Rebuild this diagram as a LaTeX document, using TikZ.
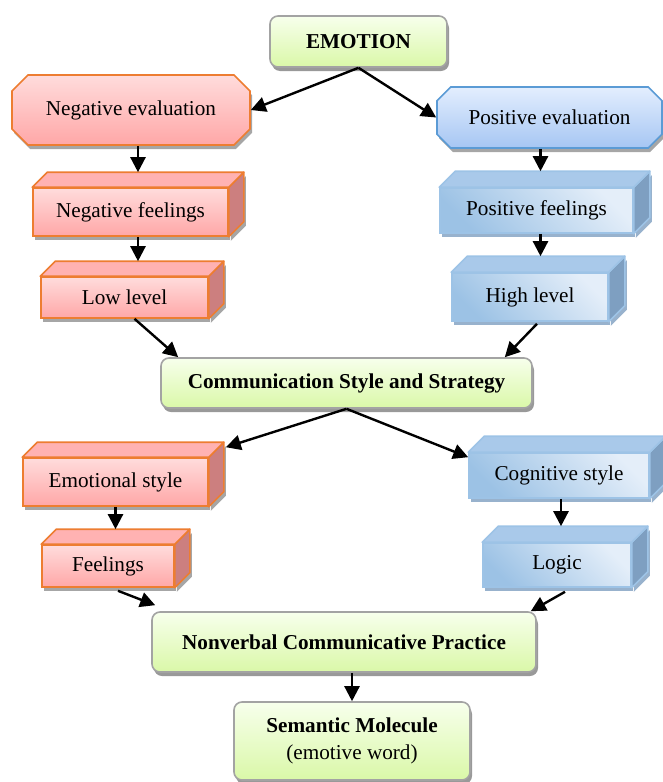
\documentclass[tikz,border=0pt]{standalone}
\usepackage{fontspec}
\setmainfont{Liberation Serif}
\usetikzlibrary{shapes.misc,shadows,calc,arrows.meta}
\definecolor{grnline}{HTML}{A3A3A3}
\definecolor{grnlt}{HTML}{F7FFEC}
\definecolor{grndk}{HTML}{DAF8A8}
\definecolor{negline}{HTML}{ED7D31}
\definecolor{neglt}{HTML}{FFDCDC}
\definecolor{negdk}{HTML}{FFA7A7}
\definecolor{negtopc}{HTML}{FFB2B2}
\definecolor{negsidec}{HTML}{CC7F7F}
\definecolor{evalline}{HTML}{5B9BD5}
\definecolor{evallt}{HTML}{E3EEFE}
\definecolor{evaldk}{HTML}{A6C6F3}
\definecolor{posline}{HTML}{9DC3E6}
\definecolor{poslt}{HTML}{E4EEF9}
\definecolor{posdk}{HTML}{9CC2E5}
\definecolor{postopc}{HTML}{A9C9EA}
\definecolor{possidec}{HTML}{7E9FC1}
\begin{document}
\begin{tikzpicture}[x=1pt,y=-1pt,
font=\fontsize{21.2}{27}\selectfont,
stage/.style={%
rectangle,
rounded corners=8pt,
draw=grnline,
line width=1.6pt,
top color=grnlt,
bottom color=grndk,
drop shadow={shadow xshift=2pt,shadow yshift=-4pt,fill=black!40,opacity=1},
font=\fontsize{21.2}{27}\selectfont\bfseries,
align=center,
},
negoct/.style={%
chamfered rectangle,
chamfered rectangle xsep=20pt,
draw=negline,
line width=1.6pt,
top color=neglt,
bottom color=negdk,
drop shadow={shadow xshift=2pt,shadow yshift=-4pt,fill=black!35,opacity=1},
},
posoct/.style={%
chamfered rectangle,
chamfered rectangle xsep=14pt,
draw=evalline,
line width=1.6pt,
top color=evallt,
bottom color=evaldk,
drop shadow={shadow xshift=2pt,shadow yshift=-4pt,fill=black!35,opacity=1},
},
negblock/.style={%
rectangle,
draw=negline,
line width=1.6pt,
top color=neglt,
bottom color=negdk,
drop shadow={shadow xshift=2pt,shadow yshift=-4pt,fill=black!35,opacity=1},
},
posblock/.style={%
rectangle,
draw=posline,
line width=1.6pt,
top color=poslt,
bottom color=posdk,
shading angle=-45,
drop shadow={shadow xshift=2pt,shadow yshift=-4pt,fill=possidec!80,opacity=1},
},
negtop/.style={fill=negtopc,draw=negline,line width=1.6pt,line join=round},
negside/.style={fill=negsidec,draw=negline,line width=1.6pt,line join=round,
drop shadow={shadow xshift=2pt,shadow yshift=-4pt,fill=black!35,opacity=1}},
postop/.style={fill=postopc,draw=posline,line width=1.6pt,line join=round},
posside/.style={fill=possidec,draw=posline,line width=1.6pt,line join=round,
drop shadow={shadow xshift=2pt,shadow yshift=-4pt,fill=possidec!80,opacity=1}},
arr/.style={-{Triangle[length=15pt,width=15pt]},line width=2.4pt},
]
\clip(0,0)rectangle(663,782);
%% Emotion and evaluation
\node[stage,minimum width=177,minimum height=51]at(358.5,41.5)(emotion){EMOTION};
\node[negoct,minimum width=238,minimum height=70]at(131,110)(negeval){Negative evaluation};
\node[posoct,minimum width=225,minimum height=61]at(549.5,117.5)(poseval){Positive evaluation};
%% Feelings and levels
\node[negblock,minimum width=195,minimum height=48]at(130.5,212)(nfeel){Negative feelings};
\node[negblock,minimum width=167,minimum height=41]at(124.5,297.5)(low){Low level};
\node[posblock,minimum width=193,minimum height=45]at(536.5,210.5)(pfeel){Positive feelings};
\node[posblock,minimum width=156,minimum height=48]at(530,297)(high){High level};
%% Style and strategy
\node[stage,minimum width=371,minimum height=50]at(346.5,383)(comm){Communication Style and Strategy};
\node[negblock,minimum width=185,minimum height=48]at(115.5,482)(emost){Emotional style};
\node[negblock,minimum width=132,minimum height=42]at(108,566)(feel){Feelings};
\node[posblock,minimum width=180,minimum height=45]at(559,475.5)(cogst){Cognitive style};
\node[posblock,minimum width=148,minimum height=44]at(557,565)(logic){Logic};
%% Practice
\node[stage,minimum width=384,minimum height=60]at(344,642)(nonverb){Nonverbal Communicative Practice};
\node[stage,minimum width=236,minimum height=78]at(352,741)(semmol){Semantic Molecule\\\textmd{(emotive word)}};
%% 3D faces
\foreach \n in {nfeel,low,emost,feel}{%
\filldraw[negside](\n.north east)--++(15,-15)--($(\n.south east)+(15,-15)$)--(\n.south east)--cycle;
\filldraw[negtop](\n.north west)--++(15,-15)--($(\n.north east)+(15,-15)$)--(\n.north east)--cycle;
\coordinate(\n-top)at($(\n.north)+(7.5,-15)$);
}
\foreach \n in {pfeel,high,cogst,logic}{%
\filldraw[posside](\n.north east)--++(16,-16)--($(\n.south east)+(16,-16)$)--(\n.south east)--cycle;
\filldraw[postop](\n.north west)--++(16,-16)--($(\n.north east)+(16,-16)$)--(\n.north east)--cycle;
\coordinate(\n-top)at($(\n.north)+(4,-16)$);
}
%% Arrows
\draw[arr](emotion.south)--(negeval.east);
\draw[arr](emotion.south)--(poseval.west);
\draw[arr](negeval.south-|nfeel-top)--(nfeel-top);
\draw[arr](nfeel.south-|nfeel-top)--(low-top-|nfeel-top);
\draw[arr](poseval.south-|pfeel-top)--(pfeel-top);
\draw[arr](pfeel.south-|pfeel-top)--(high-top-|pfeel-top);
\draw[arr]($(low.south)+(10,0)$)--($(comm.north west)+(18,0)$);
\draw[arr]($(high.south)+(7,2)$)--($(comm.north east)+(-28,0)$);
\draw[arr](comm.south)--($(emost.north east)+(17,-10)$);
\draw[arr](comm.south)--($(cogst.north west)+(0,5)$);
\draw[arr](emost.south-|feel-top)--(feel-top);
\draw[arr](cogst.south-|logic-top)--(logic-top);
\draw[arr]($(feel.south)+(10,3)$)--($(nonverb.north west)+(4,-6)$);
\draw[arr]($(logic.south)+(8,4)$)--($(nonverb.north east)+(-6,0)$);
\draw[arr](nonverb.south-|semmol.north)--(semmol.north);
\end{tikzpicture}
\end{document}
